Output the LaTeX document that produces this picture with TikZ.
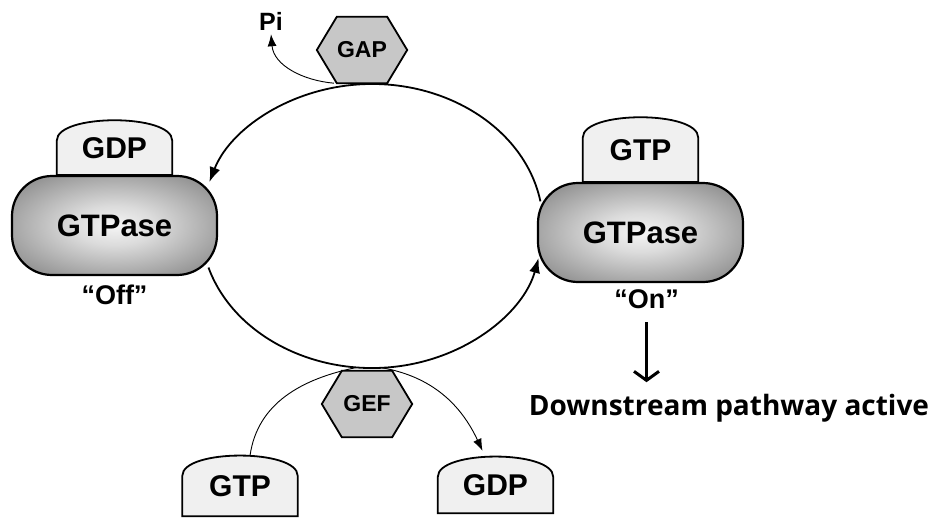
\documentclass[tikz,border=0pt]{standalone}
\usepackage{fontspec}
\setmainfont{Liberation Sans}
\newfontfamily\dsfont{Open Sans}
\usetikzlibrary{arrows.meta}
\usetikzlibrary{positioning,backgrounds}

\pgfdeclareradialshading{gtpshade}{\pgfpoint{0bp}{0bp}}{color(0bp)=(black!4); color(10bp)=(black!14); color(32bp)=(black!45); color(50bp)=(black!60)}

\tikzset{
    body/.style={
      rectangle, rounded corners=40pt,
           draw=black, line width=2.2pt,
           shade, shading=gtpshade,
           minimum width=205pt,
           minimum height=99pt,
           font=\fontsize{31}{36}\selectfont\bfseries,
           },
}
\tikzset{
    nucl/.style={
      rectangle, inner sep=0pt,
           minimum width=115pt,
           minimum height=54pt,
           font=\fontsize{30}{35}\selectfont\bfseries,
           },
}
\tikzset{
    nuclline/.style={draw=black, line width=1.8pt, fill=black!6},
    hexa/.style={inner sep=0pt, minimum width=90pt, minimum height=66pt,
           font=\fontsize{23}{27}\selectfont\bfseries},
    hexline/.style={draw=black, line width=1.8pt, fill=black!22},
    statelab/.style={font=\fontsize{27}{31}\selectfont\bfseries},
    pilab/.style={inner sep=4pt, font=\fontsize{25}{29}\selectfont\bfseries},
    dslab/.style={font=\dsfont\fontsize{28}{32}\selectfont\bfseries},
}
\tikzset{
    loopline/.style={line width=1.8pt, -{Latex[length=15pt,width=11pt]}},
    thinline/.style={line width=0.9pt},
    thinarr/.style={thinline, -{Latex[length=12pt,width=9pt]}},
    downarr/.style={line width=3pt, -{Straight Barb[length=9pt,width=25pt]},
           shorten <=10pt, shorten >=8pt},
}

% dome shaped nucleotide round a node
\newcommand\nucldome[1]{\draw[nuclline] (#1.south west) -- ([yshift=-20pt]#1.north west)
  .. controls ([yshift=7pt]#1.north west) and ([yshift=7pt]#1.north east) ..
  ([yshift=-20pt]#1.north east) -- (#1.south east) -- cycle;}
% hexagon round a node
\newcommand\hexout[1]{\draw[hexline] (#1.west) -- ([xshift=20pt]#1.north west)
  -- ([xshift=-20pt]#1.north east) -- (#1.east) -- ([xshift=-20pt]#1.south east)
  -- ([xshift=20pt]#1.south west) -- cycle;}

\begin{document}
\begin{tikzpicture}[x=1pt,y=1pt]
\useasboundingbox (0,0) rectangle (940,-519);

\node[body](offL) at (114.5,-225.5){GTPase};
\node[nucl,above = 0pt of offL](gdpL){GDP};
\node[statelab,below = 5pt of offL](offlab){“Off”};

\node[body](onR) at (640.5,-232.5){GTPase};
\node[nucl,minimum height=64pt,above = 0pt of onR](gtpR){GTP};
\node[statelab,below = 3pt of onR,xshift=6pt](onlab){“On”};

\node[hexa](gap) at (362,-50){GAP};
\node[hexa](gef) at (367,-404){GEF};
\node[pilab](pi) at (271,-21){Pi};

\node[nucl,minimum height=60pt](gtpB) at (240,-486){GTP};
\node[nucl,minimum height=56pt](gdpB) at (495.5,-485){GDP};

\node[dslab,anchor=base](down) at (729,-415){Downstream pathway active};

\coordinate (cyc) at (372,-226);

\begin{scope}[on background layer]
\nucldome{gdpL}
\nucldome{gtpR}
\nucldome{gtpB}
\nucldome{gdpB}
\hexout{gap}
\hexout{gef}
\end{scope}

\draw[loopline] ([shift={(10:171pt and 142pt)}]cyc) arc[start angle=10,end angle=162,x radius=171pt,y radius=142pt];
\draw[loopline] ([shift={(197:171pt and 142pt)}]cyc) arc[start angle=197,end angle=347,x radius=171pt,y radius=142pt];

\draw[thinarr] ([xshift=-28pt]gap.south) to[out=175,in=-85] (pi.south);

\draw[thinline] ([xshift=-12pt,yshift=3pt]gef.north) to[out=192,in=82] ([xshift=10pt]gtpB.north);
\draw[thinarr] ([xshift=15pt,yshift=3pt]gef.north) to[out=-10,in=115] ([xshift=-13pt,yshift=6pt]gdpB.north);

\draw[downarr] (onlab.south) -- (onlab.south |- down.north);

\end{tikzpicture}
\end{document}
